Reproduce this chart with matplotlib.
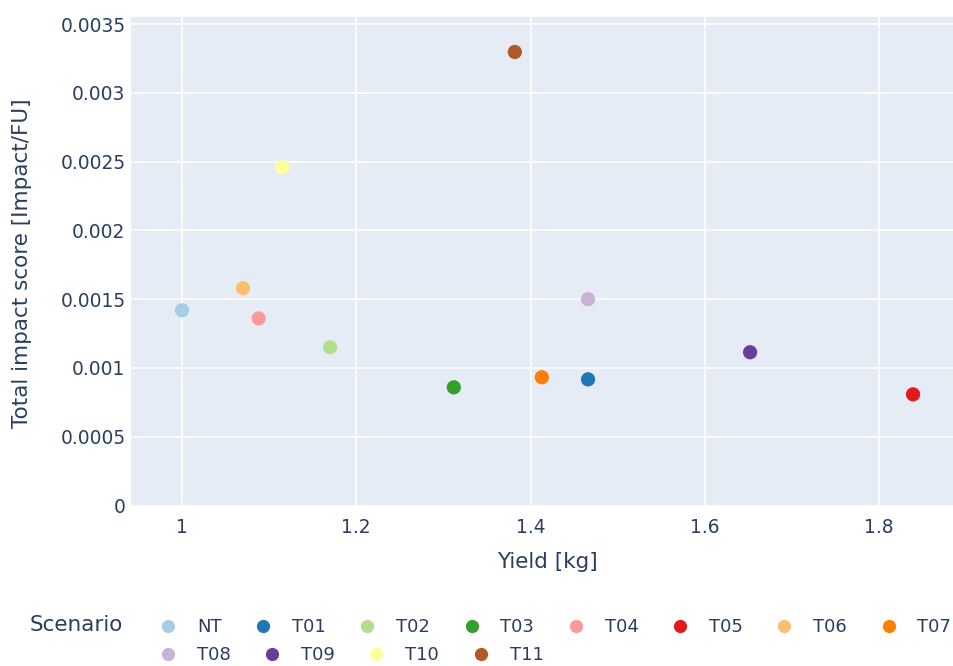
import matplotlib
matplotlib.use("Agg")
import matplotlib.pyplot as plt
from matplotlib.lines import Line2D

scenarios = ["NT", "T01", "T02", "T03", "T04", "T05", "T06", "T07", "T08", "T09", "T10", "T11"]
yield_kg = [1.000, 1.466, 1.170, 1.312, 1.088, 1.839, 1.070, 1.413, 1.466, 1.652, 1.115, 1.382]
impact = [0.001419, 0.000917, 0.00115, 0.000859, 0.00136, 0.000808, 0.00158, 0.000932,
          0.00150, 0.001114, 0.00246, 0.003297]
colors = ["#a6cee3", "#1f78b4", "#b2df8a", "#33a02c", "#fb9a99", "#e31a1c",
          "#fdbf6f", "#ff7f00", "#cab2d6", "#6a3d9a", "#ffff99", "#b15928"]
xticks = [1, 1.2, 1.4, 1.6, 1.8]
xtick_labels = ["1", "1.2", "1.4", "1.6", "1.8"]
yticks = [0, 0.0005, 0.001, 0.0015, 0.002, 0.0025, 0.003, 0.0035]
ytick_labels = ["0", "0.0005", "0.001", "0.0015", "0.002", "0.0025", "0.003", "0.0035"]

TXT = "#2a3f5f"
W, H = 954, 666
fig = plt.figure(figsize=(W / 100, H / 100), dpi=100)
ax = fig.add_axes([131 / W, 1 - 505.5 / H, (W - 131) / W, (505.5 - 17.3) / H])
ax.set_facecolor("#E5ECF6")
for s in ax.spines.values():
    s.set_visible(False)
ax.set_axisbelow(True)
ax.grid(True, color="white", linewidth=1.1)

for name, x, y, c in zip(scenarios, yield_kg, impact, colors):
    ax.scatter([x], [y], s=105, color=c, edgecolors="none", zorder=3, label=name)

ax.set_xlim(0.9415, 1.886)
ax.set_ylim(0, 0.003549)
ax.set_xticks(xticks)
ax.set_xticklabels(xtick_labels)
ax.set_yticks(yticks)
ax.set_yticklabels(ytick_labels)
ax.tick_params(axis="both", length=0, colors=TXT)
ax.tick_params(axis="y", pad=4, labelsize=13.4)
ax.tick_params(axis="x", pad=9, labelsize=13.4)

fig.text(547 / W, 1 - 562 / H, "Yield [kg]", ha="center", va="center", fontsize=15.5, color=TXT)
fig.text(22 / W, 1 - 263 / H, "Total impact score [Impact/FU]", ha="center", va="center",
         rotation=90, fontsize=15.5, color=TXT)
fig.text(30 / W, 1 - 625 / H, "Scenario", ha="left", va="center", fontsize=15.5, color=TXT)

def handles(idx):
    return [Line2D([], [], linestyle="none", marker="o", markersize=9.5,
                   markerfacecolor=colors[i], markeredgecolor="none") for i in idx], \
           [scenarios[i] for i in idx]

fs = 13
common = dict(frameon=False, fontsize=fs, borderpad=0, borderaxespad=0,
              handlelength=1.0, handletextpad=1.1, columnspacing=1.8, labelcolor=TXT)
h1, l1 = handles(range(8))
leg1 = fig.legend(h1, l1, loc="center left", bbox_to_anchor=(159 / W, 1 - 627 / H), ncol=8, **common)
h2, l2 = handles(range(8, 12))
leg2 = fig.legend(h2, l2, loc="center left", bbox_to_anchor=(159 / W, 1 - 655 / H), ncol=4, **common)

fig.savefig("out.png", dpi=100)
